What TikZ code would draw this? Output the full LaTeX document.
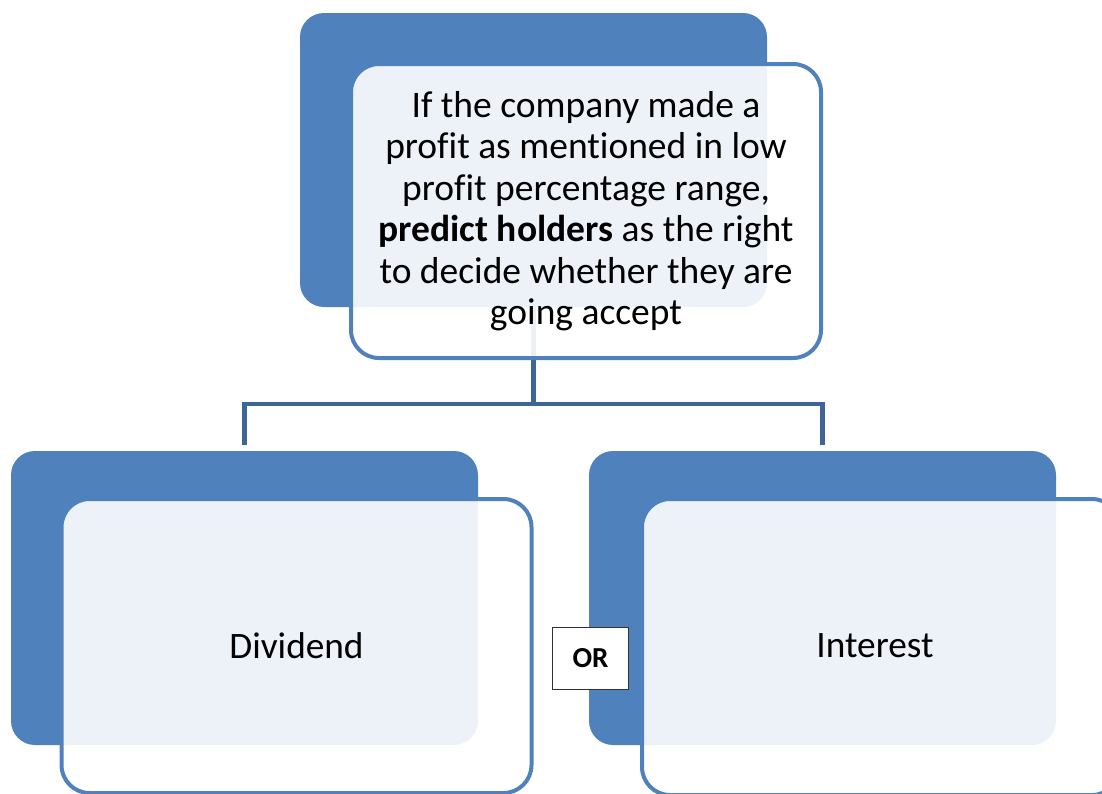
\documentclass[tikz,border=0pt]{standalone}
\usepackage{fontspec}
\setmainfont{Carlito}[Ligatures=CommonOff]
\usetikzlibrary{calc}
\definecolor{darkblue}{RGB}{79,129,189}
\definecolor{connblue}{RGB}{62,101,151}
\tikzset{
  backbox/.style={fill=darkblue, draw=none, rounded corners=24pt, minimum width=467pt, minimum height=294pt, inner sep=0pt},
  frontbox/.style={fill=white, fill opacity=0.9, text opacity=1, draw=darkblue, draw opacity=1, line width=4pt, rounded corners=28pt, minimum width=470pt, minimum height=294pt, inner sep=0pt, align=center},
  conn/.style={draw=connblue, line width=4.5pt},
  orbox/.style={draw=black!80, fill=white, line width=1.3pt, minimum width=76pt, minimum height=62pt, inner sep=0pt, font=\fontsize{29}{34}\selectfont\bfseries}
}
\begin{document}
\begin{tikzpicture}[x=1pt,y=-1pt]
\useasboundingbox (0,0) rectangle (1102,793);
\clip (0,0) rectangle (1102,793);
% back boxes
\node[backbox] (topdark) at (533.5,160) {};
\node[backbox] (ldark) at (244.5,598) {};
\node[backbox] (rdark) at (822.5,598) {};
% connectors
\draw[conn] (topdark.south) -- ++(0,97) coordinate (j);
\draw[conn] ($(ldark.north)+(0,-6)$) |- (j) -| ($(rdark.north)+(0,-6)$);
% front boxes
\node[frontbox, font=\fontsize{37.5}{41.5}\selectfont] (top) at (586,211) {If the company made a\\profit as mentioned in low\\profit percentage range,\\\textbf{predict holders} as the right\\to decide whether they are\\going accept};
\node[frontbox, font=\fontsize{37.3}{42}\selectfont] (div) at (296.5,646) {Dividend};
\node[frontbox, minimum width=478pt, minimum height=296pt] (int) at (881,647) {};
\node[font=\fontsize{37.3}{42}\selectfont, inner sep=0pt] (intlabel) at (875,646) {Interest};
% OR
\node[orbox] (or) at (590.5,658.5) {OR};
\end{tikzpicture}
\end{document}
